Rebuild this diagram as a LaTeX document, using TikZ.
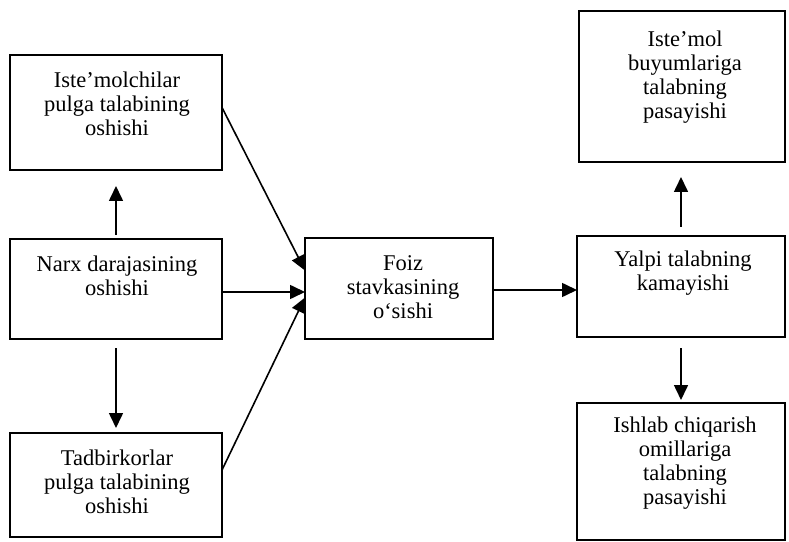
\documentclass[tikz,border=0pt]{standalone}
\usepackage{fontspec}
\setmainfont{Liberation Serif}
\usetikzlibrary{arrows.meta}
\begin{document}
\begin{tikzpicture}[x=1bp,y=-1bp,
  box/.style={draw=black, line width=1.8bp, inner sep=0pt, outer sep=0pt, fill=none},
  lbl/.style={align=center, inner sep=0pt, font=\fontsize{22.5bp}{24bp}\selectfont},
  arr/.style={line width=1.6bp, -{Triangle[length=15bp,width=14bp]}}]
\useasboundingbox (0,0) rectangle (789,542);
% boxes
\node[box, minimum width=212bp, minimum height=115bp] (A) at (116,112.5) {};
\node[box, minimum width=212bp, minimum height=100bp] (N) at (116,289) {};
\node[box, minimum width=212bp, minimum height=104bp] (T) at (116,485) {};
\node[box, minimum width=188bp, minimum height=101bp] (F) at (399,288.5) {};
\node[box, minimum width=208bp, minimum height=101bp] (Y) at (681,286.5) {};
\node[box, minimum width=206bp, minimum height=151bp] (I) at (682,86.5) {};
\node[box, minimum width=208bp, minimum height=137bp] (S) at (681,471.5) {};
% texts
\node[lbl] (tA) at (117,104) {Iste'molchilar\\pulga talabining\\oshishi};
\node[lbl] (tN) at (117,276) {Narx darajasining\\oshishi};
\node[lbl] (tT) at (117,482) {Tadbirkorlar\\pulga talabining\\oshishi};
\node[lbl] (tF) at (403,287) {Foiz\\stavkasining\\o‘sishi};
\node[lbl] (tY) at (683,273) {Yalpi talabning\\kamayishi};
\node[lbl] (tI) at (685,77) {Iste'mol\\buyumlariga\\talabning\\pasayishi};
\node[lbl] (tS) at (685,463) {Ishlab chiqarish\\omillariga\\talabning\\pasayishi};
% arrows
\draw[arr, shorten <=4bp, shorten >=16bp] (N.north) -- (A.south);
\draw[arr, shorten <=9bp, shorten >=5bp] (N.south) -- (T.north);
\draw[arr] ([yshift=5bp]A.east) -- ([yshift=18bp]F.west);
\draw[arr] ([yshift=-3bp]N.east) -- ([yshift=-3bp]N.east -| F.west);
\draw[arr] ([yshift=15bp]T.east) -- ([yshift=-9bp]F.west);
\draw[arr] ([yshift=-1.5bp]F.east) -- ([yshift=-1.5bp]F.east -| Y.west);
\draw[arr, shorten <=9bp, shorten >=15bp] (Y.north) -- (Y.north |- I.south);
\draw[arr, shorten <=11bp, shorten >=3bp] (Y.south) -- (Y.south |- S.north);
\end{tikzpicture}
\end{document}
